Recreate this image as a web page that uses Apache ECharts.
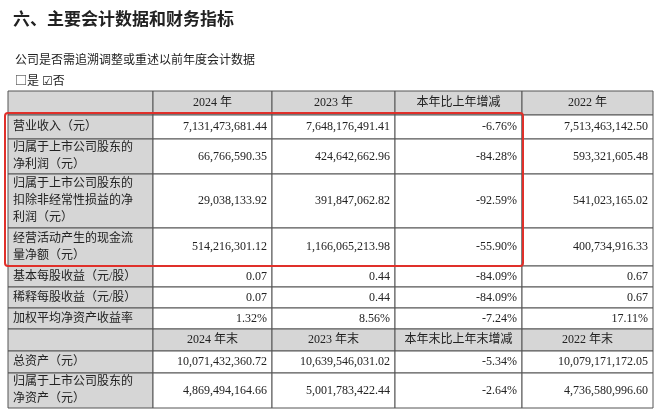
<!DOCTYPE html>
<html><head><meta charset="utf-8">
<script src="https://cdn.jsdelivr.net/npm/echarts@6/dist/echarts.min.js"></script>
<style>html,body{margin:0;padding:0;background:#fff}#chart{width:660px;height:417px}</style>
</head><body><div id="chart"></div>
<script>
// 表头
var header1 = ['2024 年', '2023 年', '本年比上年增减', '2022 年'];
var header2 = ['2024 年末', '2023 年末', '本年末比上年末增减', '2022 年末'];
// 指标名称
var labels1 = ['营业收入（元）', '归属于上市公司股东的\n净利润（元）', '归属于上市公司股东的\n扣除非经常性损益的净\n利润（元）', '经营活动产生的现金流\n量净额（元）', '基本每股收益（元/股）', '稀释每股收益（元/股）', '加权平均净资产收益率'];
var labels2 = ['总资产（元）', '归属于上市公司股东的\n净资产（元）'];
// 数值
var col2024 = ['7,131,473,681.44', '66,766,590.35', '29,038,133.92', '514,216,301.12', '0.07', '0.07', '1.32%'];
var col2023 = ['7,648,176,491.41', '424,642,662.96', '391,847,062.82', '1,166,065,213.98', '0.44', '0.44', '8.56%'];
var colChange = ['-6.76%', '-84.28%', '-92.59%', '-55.90%', '-84.09%', '-84.09%', '-7.24%'];
var col2022 = ['7,513,463,142.50', '593,321,605.48', '541,023,165.02', '400,734,916.33', '0.67', '0.67', '17.11%'];
var end2024 = ['10,071,432,360.72', '4,869,494,164.66'];
var end2023 = ['10,639,546,031.02', '5,001,783,422.44'];
var endChange = ['-5.34%', '-2.64%'];
var end2022 = ['10,079,171,172.05', '4,736,580,996.60'];

var chart = echarts.init(document.getElementById('chart'));
var colX = [8, 153, 272, 395, 522, 653];
var rowY = [91, 115, 139, 174, 228, 266, 287, 308, 329, 351, 373, 408];
var font = '"Liberation Serif", "Noto Sans CJK SC", serif';
var g = [];

function cell(c, r, txt, gray, align) {
    var x = colX[c], y = rowY[r], w = colX[c + 1] - x, h = rowY[r + 1] - y;
    g.push({type: 'rect', shape: {x: x, y: y, width: w, height: h},
        style: {fill: gray ? '#d6d6d6' : '#fff', stroke: '#555', lineWidth: 1}});
    if (!txt) return;
    var tx = align === 'center' ? x + w / 2 : (align === 'left' ? x + 5 : x + w - 5);
    g.push({type: 'text', x: tx, y: y + h / 2,
        style: {text: txt, fill: '#222', font: '12px ' + font, align: align,
            verticalAlign: 'middle', lineHeight: 17}});
}

// 第一段
cell(0, 0, '', true);
header1.forEach(function (t, i) { cell(i + 1, 0, t, true, 'center'); });
labels1.forEach(function (l, i) {
    var r = i + 1;
    cell(0, r, l, true, 'left');
    cell(1, r, col2024[i], false, 'right');
    cell(2, r, col2023[i], false, 'right');
    cell(3, r, colChange[i], false, 'right');
    cell(4, r, col2022[i], false, 'right');
});
// 第二段
cell(0, 8, '', true);
header2.forEach(function (t, i) { cell(i + 1, 8, t, true, 'center'); });
labels2.forEach(function (l, i) {
    var r = i + 9;
    cell(0, r, l, true, 'left');
    cell(1, r, end2024[i], false, 'right');
    cell(2, r, end2023[i], false, 'right');
    cell(3, r, endChange[i], false, 'right');
    cell(4, r, end2022[i], false, 'right');
});

// 红框
g.push({type: 'rect', shape: {x: 5, y: 113, width: 518, height: 153, r: 3},
    style: {fill: 'none', stroke: '#e0302a', lineWidth: 2}});

var option = {
    title: [
        {text: '六、主要会计数据和财务指标', left: 8, top: 5,
            textStyle: {fontSize: 17, fontWeight: 'bold', color: '#222', fontFamily: 'Noto Sans CJK SC'}},
        {text: '公司是否需追溯调整或重述以前年度会计数据', left: 10, top: 48,
            textStyle: {fontSize: 12, fontWeight: 'normal', color: '#222', fontFamily: 'Noto Sans CJK SC'}},
        {text: '□是 ☑否', left: 10, top: 69,
            textStyle: {fontSize: 12, fontWeight: 'normal', color: '#222', fontFamily: 'Noto Sans CJK SC'}}
    ],
    graphic: g
};
chart.setOption(option);
</script></body></html>
